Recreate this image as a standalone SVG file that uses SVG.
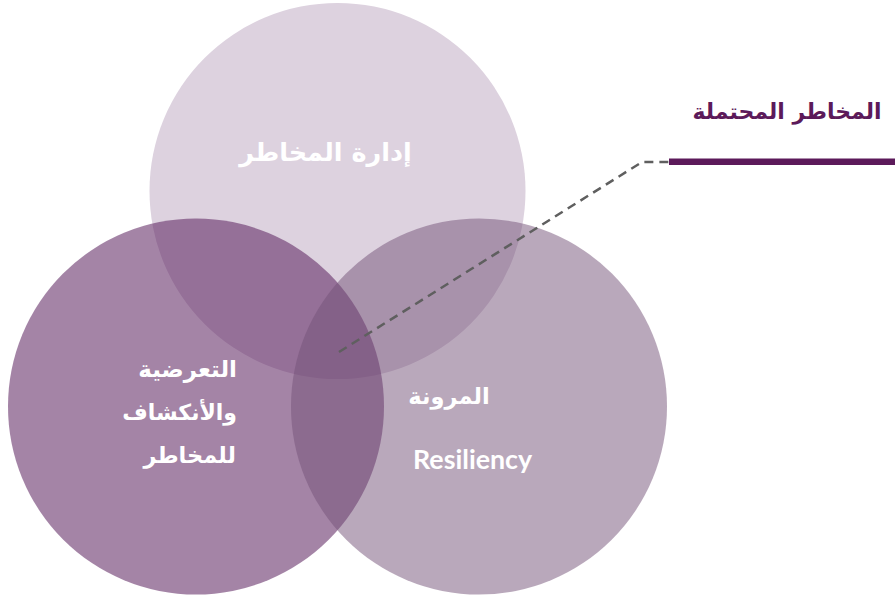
<svg xmlns="http://www.w3.org/2000/svg" width="895" height="595" viewBox="0 0 895 595">
<style>
.ar{font-family:"DejaVu Sans","Noto Sans",sans-serif;font-weight:bold;fill:#FFFFFF}
.en{font-family:Lato,"Liberation Sans",sans-serif;font-weight:bold;fill:#FFFFFF}
.title{font-family:"DejaVu Sans","Noto Sans",sans-serif;font-weight:bold;fill:#5C1A5A}
.dash{fill:none;stroke:#5F5F5F;stroke-width:2.5;stroke-dasharray:9 6}
</style>
<rect width="895" height="595" fill="#FFFFFF"/>
<g id="node-top">
<circle cx="337.5" cy="191" r="188" fill="#DDD2DF"/>
<text class="ar" x="325.5" y="161" font-size="25.5" text-anchor="middle">إدارة المخاطر</text>
</g>
<g id="node-left">
<circle cx="196" cy="406.5" r="188" fill="#5A1F5C" fill-opacity="0.55"/>
<text class="ar" x="237" y="377" font-size="23" text-anchor="end">التعرضية</text>
<text class="ar" x="237" y="420" font-size="22" text-anchor="end">والأنكشاف</text>
<text class="ar" x="236" y="463" font-size="22.5" text-anchor="end">للمخاطر</text>
</g>
<g id="node-right">
<circle cx="479" cy="406.5" r="188" fill="#735177" fill-opacity="0.5"/>
<text class="ar" x="449" y="404" font-size="22.5" text-anchor="middle">المرونة</text>
<text class="en" x="413" y="468.5" font-size="26.8">Resiliency</text>
</g>
<g id="connectors">
<polyline class="dash" points="339,352 642,162 669,162"/>
</g>
<g id="node-callout">
<rect x="669" y="158.5" width="226" height="6.5" fill="#5C1A5A"/>
<text class="title" x="787" y="119" font-size="22" text-anchor="middle">المخاطر المحتملة</text>
</g>
</svg>
